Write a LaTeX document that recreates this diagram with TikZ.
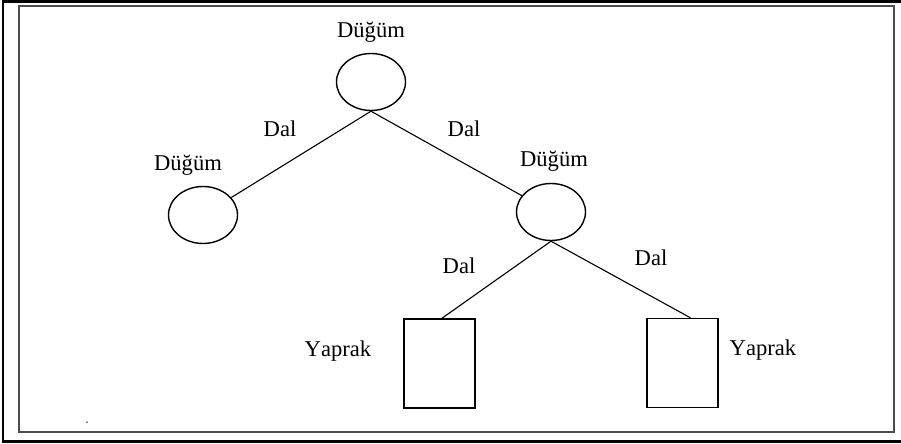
\documentclass[tikz,border=0pt]{standalone}
\usepackage{fontspec}
\setmainfont[Kerning=Off]{Liberation Serif}
\usetikzlibrary{shapes.geometric}

\tikzset{
	dugum/.style={draw, ellipse, line width=0.7pt, minimum width=34.5pt, minimum height=28.5pt, inner sep=0pt},
	yaprak/.style={draw, rectangle, line width=0.7pt, minimum width=35.5pt, minimum height=44.5pt, inner sep=0pt},
	dal/.style={line width=0.55pt},
	etiket/.style={font=\fontsize{11.3}{13}\selectfont, inner sep=0pt}
}

\begin{document}
\begin{tikzpicture}[x=0.5pt, y=-0.5pt]
	\useasboundingbox (0,0) rectangle (901,444);
	% double frame
	\draw[line width=1.1pt] (905,1.5) -- (3,1.5) -- (3,441.5) -- (905,441.5);
	\draw[line width=1pt, black!70] (19,6) rectangle (894,432);
	\fill[black!60] (87,422) circle (1);
	% tree
	\node[dugum] (kok) at (371,82) {};
	\node[dugum] (sol) at (203,215) {};
	\node[dugum] (sag) at (551,212) {};
	\node[yaprak] (yaprak1) at (439.5,363.5) {};
	\node[yaprak] (yaprak2) at (682.5,363) {};
	\draw[dal] (kok.south) -- (sol);
	\draw[dal] (kok.south) -- (sag);
	\draw[dal] (sag.south) -- (yaprak1.87);
	\draw[dal] (sag.south) -- (yaprak2.80);
	% labels
	\node[etiket] (e1) at (371,32) {Düğüm};
	\node[etiket] (e2) at (188,165) {Düğüm};
	\node[etiket] (e3) at (554,161) {Düğüm};
	\node[etiket] (e4) at (280,129) {Dal};
	\node[etiket] (e5) at (464,129) {Dal};
	\node[etiket] (e6) at (459,266) {Dal};
	\node[etiket] (e7) at (651,258) {Dal};
	\node[etiket] (e8) at (338,351) {Yaprak};
	\node[etiket] (e9) at (763,350) {Yaprak};
\end{tikzpicture}
\end{document}
